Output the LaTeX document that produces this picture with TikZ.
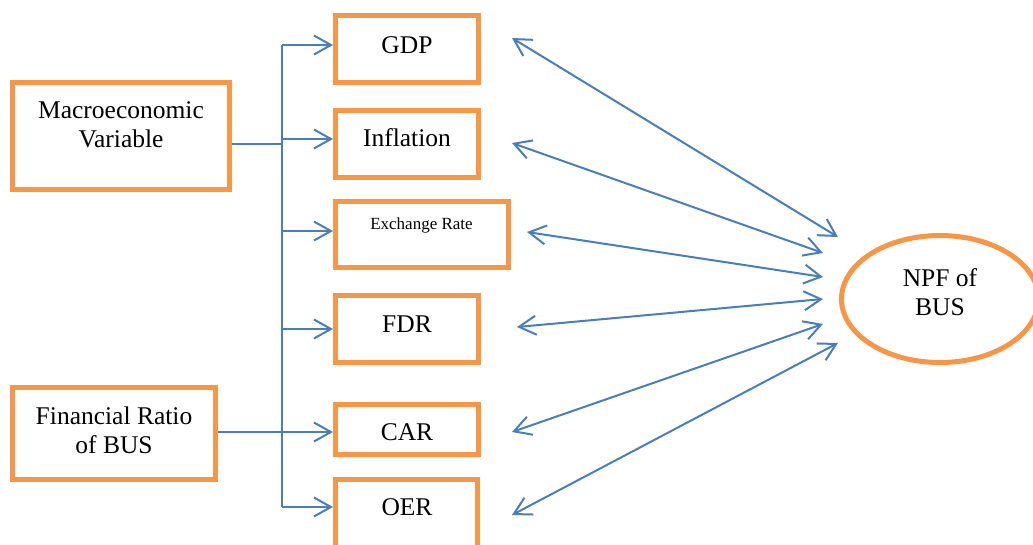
\documentclass[tikz,border=0pt]{standalone}
\usepackage{fontspec}
\setmainfont{Liberation Serif}
\usetikzlibrary{arrows.meta,shapes.geometric}
\definecolor{boxorange}{HTML}{F79646}
\definecolor{lineblue}{HTML}{4A7EBB}
\tikzset{
  obox/.style={draw=boxorange, line width=5pt, rectangle, inner sep=0pt, fill=white},
  oell/.style={draw=boxorange, line width=5pt, ellipse, inner sep=0pt},
  txt/.style={inner sep=0pt, font=\fontsize{25.5}{29}\selectfont, align=center},
  smalltxt/.style={inner sep=0pt, font=\fontsize{17}{19}\selectfont},
  conn/.style={draw=lineblue, line width=2pt},
  arr/.style={conn, -{Straight Barb[length=17pt,width=19pt,line width=2pt]}},
  dbl/.style={conn, {Straight Barb[length=17pt,width=19pt,line width=2pt]}-{Straight Barb[length=17pt,width=19pt,line width=2pt]}}
}
\begin{document}
\begin{tikzpicture}[x=1pt,y=-1pt]
\clip (0,0) rectangle (1033,544);
\useasboundingbox (0,0) rectangle (1033,544);
% boxes
\node[obox, minimum width=217pt, minimum height=107pt] (macro) at (121,136) {};
\node[obox, minimum width=203pt, minimum height=92pt] (fin) at (114,433.5) {};
\node[obox, minimum width=143pt, minimum height=67pt] (gdp) at (407,49) {};
\node[obox, minimum width=143pt, minimum height=67pt] (inf) at (407,144) {};
\node[obox, minimum width=173pt, minimum height=66pt] (exr) at (422,234.5) {};
\node[obox, minimum width=143pt, minimum height=67pt] (fdr) at (407,329) {};
\node[obox, minimum width=143pt, minimum height=50pt] (car) at (407,429.5) {};
\node[obox, minimum width=142pt, minimum height=70pt] (oer) at (406.5,514.5) {};
\node[oell, minimum width=197pt, minimum height=127pt] (npf) at (940,299) {};
% texts
\node[txt] (tmacro) at (121,125) {Macroeconomic\\Variable};
\node[txt] (tfin) at (114,430) {Financial Ratio\\of BUS};
\node[txt, anchor=base] (tgdp) at (407,53) {GDP};
\node[txt, anchor=base] (tinf) at (407,146) {Inflation};
\node[smalltxt, anchor=base] (texr) at (421.5,229) {Exchange Rate};
\node[txt, anchor=base] (tfdr) at (407,332) {FDR};
\node[txt, anchor=base] (tcar) at (407,440) {CAR};
\node[txt, anchor=base] (toer) at (407,515) {OER};
\node[txt] (tnpf) at (940,292) {NPF of\\BUS};
% tree
\coordinate (bG) at (282,45);
\coordinate (bI) at (282,139);
\coordinate (bE) at (282,231);
\coordinate (bF) at (282,329);
\coordinate (bC) at (282,432);
\coordinate (bO) at (282,507);
\coordinate (jM) at (282,144);
\draw[conn] (bG) -- (bO);
\draw[conn] (macro.east |- jM) -- (jM);
\draw[conn] (fin.east |- bC) -- (bC);
\draw[arr] (bG) -- (bG -| gdp.west);
\draw[arr] (bI) -- (bI -| inf.west);
\draw[arr] (bE) -- (bE -| exr.west);
\draw[arr] (bF) -- (bF -| fdr.west);
\draw[arr] (bC) -- (bC -| car.west);
\draw[arr] (bO) -- (bO -| oer.west);
% double arrows
\coordinate (gL) at (512,38);   \coordinate (gR) at (838,237);
\coordinate (iL) at (512,143);  \coordinate (iR) at (823,253);
\coordinate (eL) at (527,232);  \coordinate (eR) at (823,277);
\coordinate (fL) at (517,327);  \coordinate (fR) at (823,299);
\coordinate (cL) at (512,432);  \coordinate (cR) at (823,324);
\coordinate (oL) at (512,515);  \coordinate (oR) at (838,343);
\draw[dbl] (gL) -- (gR);
\draw[dbl] (iL) -- (iR);
\draw[dbl] (eL) -- (eR);
\draw[dbl] (fL) -- (fR);
\draw[dbl] (cL) -- (cR);
\draw[dbl] (oL) -- (oR);
\end{tikzpicture}
\end{document}
